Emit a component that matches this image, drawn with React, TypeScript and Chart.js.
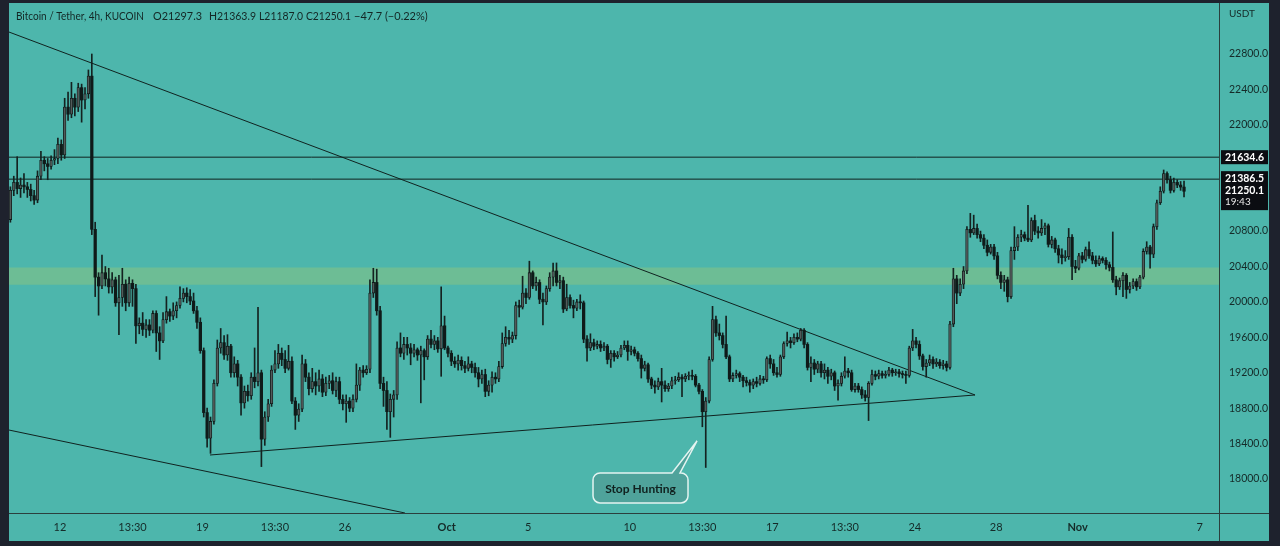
import React, { useEffect, useRef } from 'react';
import { Chart, registerables } from 'chart.js';

Chart.register(...registerables);

// Time is in days since 1 Sep 2022 00:00 (chart local time); one candle = 4h.
const FIRST_CANDLE_DAY = 8.5625; // 9 Sep 13:30
const CANDLE_STEP_DAYS = 1 / 6;
const FIRST_OPEN = 20930;

const CLOSES = [
  21260, 21350, 21280, 21320, 21300, 21270, 21200, 21150, 21420, 21600,
  21560, 21530, 21600, 21620, 21780, 21660, 22200, 22120, 22300, 22200,
  22420, 22280, 22350, 22550, 20820, 20280, 20180, 20330, 20260, 20170,
  20250, 19990, 20050, 20200, 19990, 20210, 20150, 19730, 19760, 19690,
  19740, 19680, 19870, 19650, 19560, 19800, 19890, 19840, 19900, 19960,
  20040, 20100, 20060, 20010, 19900, 19770, 19450, 18750, 18460, 18650,
  19080, 19480, 19540, 19400, 19500, 19200, 19300, 19150, 18860, 18990,
  18940, 19150, 19100, 19200, 18450, 18700, 18850, 19230, 19300, 19420,
  19350, 19250, 19330, 18880, 18720, 18790, 19300, 19150, 19020, 19100,
  19050, 19130, 18980, 19080, 19110, 19000, 19100, 18900, 18850, 18880,
  18800, 18900, 19060, 19230, 19200, 19240, 20100, 20220, 19900, 19080,
  19000, 18760, 18900, 18950, 19480, 19420, 19520, 19480, 19420, 19460,
  19400, 19450, 19380, 19580, 19520, 19560, 19470, 19730, 19480, 19420,
  19330, 19300, 19340, 19280, 19250, 19300, 19260, 19200, 19130, 19180,
  18990, 19060, 19150, 19130, 19270, 19530, 19600, 19580, 19620, 19960,
  19940, 20100, 20050, 20330, 20180, 20220, 20030, 20000, 20150, 20280,
  20350, 20220, 20240, 19920, 20050, 19960, 19930, 20000, 19990, 19580,
  19480, 19540, 19500, 19520, 19480, 19500, 19350, 19420, 19380, 19400,
  19480, 19510, 19440, 19460, 19420, 19360, 19250, 19290, 19130, 19060,
  19040, 19100, 19060, 19020, 19050, 19110, 19120, 19150, 19130, 19160,
  19170, 19160, 19060, 18990, 18760, 18880, 19350, 19800, 19650, 19620,
  19520, 19380, 19130, 19170, 19190, 19150, 19110, 19090, 19060, 19100,
  19080, 19130, 19120, 19360, 19300, 19200, 19180, 19380, 19530, 19560,
  19540, 19600, 19580, 19680, 19520, 19260, 19310, 19240, 19300, 19200,
  19230, 19160, 19200, 19050, 19080, 19160, 19220, 19200, 19010, 19050,
  19010, 18950, 18920, 19080, 19180, 19160, 19190, 19170, 19180, 19230,
  19200, 19210, 19190, 19180, 19170, 19480, 19560, 19520, 19390, 19270,
  19310, 19350, 19300, 19320, 19280, 19300, 19260, 19750, 20260, 20100,
  20200, 20350, 20820, 20780, 20830, 20760, 20720, 20640, 20560, 20620,
  20520, 20300, 20220, 20250, 20060, 20580, 20620, 20730, 20760, 20720,
  20700, 20920, 20800, 20780, 20830, 20860, 20650, 20700, 20600, 20530,
  20500, 20510, 20730, 20400, 20380, 20520, 20480, 20590, 20520, 20470,
  20430, 20490, 20470, 20420, 20390, 20250, 20170, 20240, 20300, 20140,
  20180, 20230, 20170, 20280, 20570, 20620, 20540, 20850, 21120, 21250,
  21450, 21380, 21260, 21350, 21320, 21297.3, 21250.1,
];

const HIGHS = [
  21300, 21420, 21640, 21400, 21450, 21350, 21330, 21260, 21480, 21700,
  21640, 21620, 21650, 21720, 21850, 21830, 22300, 22370, 22480, 22350,
  22470, 22460, 22420, 22620, 22800, 20900, 20330, 20530, 20400, 20380,
  20330, 20280, 20300, 20380, 20250, 20280, 20250, 20200, 19820, 19880,
  19800, 19800, 19900, 19900, 19720, 19880, 20060, 19920, 19990, 20000,
  20170, 20150, 20160, 20140, 20100, 19950, 19820, 19480, 18800, 18700,
  19120, 19570, 19700, 19620, 19630, 19520, 19380, 19340, 19180, 19050,
  19060, 19200, 19480, 19940, 19230, 18760, 18900, 19280, 19450, 19520,
  19480, 19450, 19510, 19380, 18920, 18850, 19400, 19350, 19200, 19250,
  19200, 19230, 19180, 19150, 19170, 19200, 19150, 19150, 18950, 18950,
  18920, 18950, 19300, 19260, 19280, 19280, 20250, 20380, 20370, 19950,
  19150, 19100, 18960, 19000, 19550, 19650, 19600, 19600, 19530, 19520,
  19480, 19500, 19470, 19620, 19680, 19620, 19600, 20170, 19840, 19500,
  19450, 19380, 19400, 19380, 19330, 19380, 19330, 19310, 19260, 19230,
  19240, 19110, 19210, 19200, 19330, 19650, 19720, 19680, 19660, 20000,
  20020, 20290, 20150, 20460, 20350, 20280, 20250, 20100, 20180, 20330,
  20440, 20440, 20300, 20280, 20200, 20080, 20020, 20030, 20080, 20010,
  19620, 19640, 19580, 19560, 19560, 19540, 19520, 19450, 19450, 19440,
  19510, 19560, 19560, 19500, 19490, 19440, 19400, 19330, 19310, 19150,
  19110, 19140, 19250, 19110, 19080, 19150, 19160, 19200, 19180, 19190,
  19210, 19230, 19180, 19080, 19010, 18920, 19380, 19950, 19840, 19750,
  19650, 19840, 19400, 19200, 19230, 19210, 19170, 19150, 19120, 19130,
  19150, 19170, 19160, 19380, 19400, 19350, 19260, 19400, 19550, 19660,
  19600, 19640, 19650, 19700, 19700, 19540, 19380, 19350, 19330, 19330,
  19300, 19260, 19240, 19220, 19120, 19200, 19380, 19250, 19230, 19080,
  19080, 19040, 19000, 19100, 19230, 19220, 19230, 19220, 19220, 19260,
  19250, 19240, 19240, 19220, 19220, 19500, 19690, 19600, 19560, 19410,
  19350, 19400, 19380, 19360, 19350, 19340, 19330, 19780, 20380, 20300,
  20260, 20400, 20850, 21000, 20980, 20880, 20800, 20760, 20700, 20650,
  20650, 20560, 20340, 20300, 20280, 20620, 20850, 20760, 20810, 20790,
  21090, 20950, 20980, 20850, 20930, 20890, 20880, 20740, 20720, 20640,
  20600, 20580, 20830, 20760, 20470, 20550, 20560, 20620, 20680, 20560,
  20520, 20520, 20510, 20500, 20450, 20790, 20290, 20270, 20330, 20320,
  20220, 20260, 20260, 20300, 20600, 20680, 20640, 20880, 21150, 21300,
  21490, 21470, 21420, 21400, 21380, 21360, 21363.9,
];

const LOWS = [
  20900, 21200, 21220, 21180, 21230, 21180, 21140, 21100, 21120, 21380,
  21480, 21380, 21500, 21550, 21560, 21600, 21620, 22050, 22080, 22100,
  22150, 22030, 22180, 22300, 20760, 20060, 19850, 20150, 20180, 20100,
  20100, 19950, 19630, 19950, 19900, 19950, 19950, 19530, 19640, 19620,
  19600, 19620, 19650, 19440, 19350, 19540, 19760, 19780, 19800, 19820,
  19930, 20000, 19990, 19970, 19870, 19700, 19420, 18700, 18360, 18290,
  18620, 19050, 19420, 19350, 19340, 19150, 19150, 19050, 18720, 18800,
  18880, 18900, 19030, 19050, 18140, 18380, 18650, 18820, 19200, 19250,
  19280, 19200, 19230, 18850, 18560, 18650, 18760, 19100, 18950, 18980,
  18950, 18990, 18930, 18940, 19020, 18960, 18930, 18850, 18780, 18640,
  18760, 18760, 18870, 19000, 19150, 19180, 19200, 20050, 19850, 19020,
  18820, 18560, 18470, 18700, 18900, 19380, 19350, 19400, 19290, 19380,
  19340, 18860, 19120, 19350, 19480, 19460, 19430, 19160, 19460, 19380,
  19280, 19260, 19230, 19230, 19200, 19220, 19200, 19150, 19040, 19080,
  18930, 18940, 18980, 19080, 19100, 19250, 19500, 19520, 19540, 19580,
  19830, 19920, 19980, 20030, 20150, 20130, 19980, 19740, 19970, 20120,
  20180, 20180, 20150, 19880, 19900, 19930, 19820, 19900, 19920, 19540,
  19330, 19450, 19460, 19470, 19440, 19450, 19300, 19260, 19330, 19360,
  19380, 19460, 19340, 19400, 19390, 19330, 19140, 19220, 19090, 19020,
  18970, 19010, 18870, 18990, 18990, 19020, 19070, 19100, 18930, 19100,
  19120, 19120, 19040, 18960, 18590, 18130, 18860, 19330, 19610, 19570,
  19480, 19360, 19100, 19100, 19140, 19100, 19040, 19050, 18980, 19020,
  19040, 19060, 19080, 19100, 19250, 19170, 19150, 19160, 19360, 19500,
  19480, 19520, 19550, 19560, 19480, 19230, 19100, 19180, 19200, 19150,
  19130, 19080, 19120, 19000, 18890, 19050, 19140, 19150, 18990, 18980,
  18980, 18910, 18880, 18660, 19060, 19120, 19130, 19140, 19140, 19160,
  19160, 19170, 19150, 19140, 19080, 19150, 19450, 19480, 19350, 19230,
  19150, 19280, 19250, 19270, 19250, 19240, 19220, 19240, 19720, 19980,
  20070, 20150, 20320, 20730, 20760, 20720, 20680, 20600, 20520, 20540,
  20480, 20260, 20150, 20120, 20000, 20040, 20480, 20580, 20680, 20690,
  20680, 20680, 20760, 20720, 20750, 20760, 20620, 20610, 20560, 20440,
  20430, 20460, 20480, 20250, 20330, 20360, 20440, 20460, 20490, 20430,
  20400, 20410, 20440, 20370, 20350, 20220, 20080, 20140, 20060, 20040,
  20100, 20150, 20130, 20150, 20260, 20540, 20380, 20500, 20820, 21100,
  21230, 21340, 21230, 21240, 21290, 21260, 21187.0,
];

// Axis ticks
const X_TICK_DAYS = [11, 14.5625, 18, 21.5625, 25, 30, 34, 39, 42.5625, 46, 49.5625, 53, 57, 61, 67];
const X_TICK_LABELS = ['12', '13:30', '19', '13:30', '26', 'Oct', '5', '10', '13:30', '17', '13:30', '24', '28', 'Nov', '7'];
const MONTH_LABELS = ['Oct', 'Nov'];
const Y_TICKS = [18000, 18400, 18800, 19200, 19600, 20000, 20400, 20800, 21200, 21600, 22000, 22400, 22800];
const X_MIN = 8.494;
const X_MAX = 67.948;
const Y_MIN = 17616;
const Y_MAX = 23376;

// Drawings
const H_LEVELS = [21634.6, 21386.5];
const ZONE_LOW = 20195;
const ZONE_HIGH = 20390;
const UPPER_TREND = [[8.494, 23048], [55.96, 18949]];
const SUPPORT_TREND = [[18.37, 18271], [55.96, 18949]];
const LOWER_CHANNEL = [[8.494, 18553], [27.95, 17616]];
const CALLOUT_TEXT = 'Stop Hunting';
const CALLOUT_DAY = 42.3;
const CALLOUT_PRICE = 18430;

const TITLE_PARTS = [
  'Bitcoin / Tether, 4h, KUCOIN',
  'O21297.3',
  'H21363.9',
  'L21187.0',
  'C21250.1',
  '\u221247.7 (\u22120.22%)',
];
const LAST_PRICE = 21250.1;
const COUNTDOWN = '19:43';

const DARK = '#1e222d';
const TEAL = '#4db6ac';
const INK = '#0f1a19';
const AXIS_TEXT = '#152a28';
const FONT = 'Lato, "Liberation Sans", sans-serif';

export default function App() {
  const ref = useRef<HTMLCanvasElement>(null);

  useEffect(() => {
    const canvas = ref.current;
    if (!canvas) return;

    const days = CLOSES.map((_, i) => FIRST_CANDLE_DAY + i * CANDLE_STEP_DAYS);
    const opens = CLOSES.map((_, i) => (i === 0 ? FIRST_OPEN : CLOSES[i - 1]));
    const up = CLOSES.map((c, i) => c >= opens[i]);
    const bodies = days.map((d, i) => ({ x: d, y: [opens[i], CLOSES[i]] }));
    const wicks = days.map((d, i) => ({
      x: d,
      y: [Math.min(LOWS[i], opens[i], CLOSES[i]), Math.max(HIGHS[i], opens[i], CLOSES[i])],
    }));

    const seg = (pts: number[][]) => pts.map(([x, y]) => ({ x, y }));
    const lineDs = (data: any[], extra: any = {}) => ({
      type: 'line',
      data,
      borderColor: '#10221f',
      borderWidth: 1,
      pointRadius: 0,
      tension: 0,
      fill: false,
      order: 5,
      ...extra,
    });

    const chrome = {
      id: 'chrome',
      beforeDraw(chart: any) {
        const { ctx, chartArea: a } = chart;
        ctx.save();
        ctx.fillStyle = DARK;
        ctx.fillRect(0, 0, chart.width, chart.height);
        ctx.fillStyle = TEAL;
        ctx.fillRect(a.left, a.top, a.right + 50 - a.left, a.bottom + 28 - a.top);
        ctx.restore();
      },
      afterDraw(chart: any) {
        const { ctx, chartArea: a } = chart;
        const xs = chart.scales.x;
        const ys = chart.scales.y;
        ctx.save();
        // pane separators
        ctx.strokeStyle = '#2b3f3d';
        ctx.lineWidth = 1;
        ctx.beginPath();
        ctx.moveTo(a.right + 0.5, a.top);
        ctx.lineTo(a.right + 0.5, a.bottom + 28);
        ctx.moveTo(a.left, a.bottom + 0.5);
        ctx.lineTo(a.right + 50, a.bottom + 0.5);
        ctx.stroke();

        // title
        ctx.fillStyle = '#132624';
        ctx.font = `11px ${FONT}`;
        ctx.textBaseline = 'middle';
        ctx.textAlign = 'left';
        const titleX = [16, 153, 209, 259, 306, 354];
        const titleW = [128, 49, 47, 44, 45, 74];
        TITLE_PARTS.forEach((t, i) => ctx.fillText(t, titleX[i], 16, titleW[i]));

        // currency
        ctx.fillStyle = AXIS_TEXT;
        ctx.font = `10px ${FONT}`;
        ctx.fillText('USDT', a.right + 10, 14);

        // price labels
        const boxX = a.right + 2;
        const boxW = 47;
        ctx.font = `bold 10.5px ${FONT}`;
        const y1 = ys.getPixelForValue(H_LEVELS[0]);
        ctx.fillStyle = '#0b0d12';
        ctx.fillRect(boxX, y1 - 7, boxW, 14);
        ctx.fillStyle = '#ffffff';
        ctx.fillText(H_LEVELS[0].toFixed(1), boxX + 4, y1);

        const y2 = ys.getPixelForValue(H_LEVELS[1]);
        ctx.fillStyle = '#0b0d12';
        ctx.fillRect(boxX, y2 - 8, boxW, 39);
        ctx.fillStyle = '#ffffff';
        ctx.fillText(H_LEVELS[1].toFixed(1), boxX + 4, y2 - 1);
        ctx.fillText(LAST_PRICE.toFixed(1), boxX + 4, y2 + 11);
        ctx.font = `10px ${FONT}`;
        ctx.fillStyle = '#e8e8e8';
        ctx.fillText(COUNTDOWN, boxX + 4, y2 + 23);

        // callout
        const ax = xs.getPixelForValue(CALLOUT_DAY);
        const ay = ys.getPixelForValue(CALLOUT_PRICE);
        const bl = ax - 104;
        const br = ax - 9;
        const bt = ay + 32;
        const bb = ay + 62;
        const r = 7;
        ctx.beginPath();
        ctx.moveTo(bl + r, bt);
        ctx.lineTo(ax - 25, bt);
        ctx.lineTo(ax, ay);
        ctx.lineTo(ax - 17, bt);
        ctx.lineTo(br - r, bt);
        ctx.arcTo(br, bt, br, bt + r, r);
        ctx.lineTo(br, bb - r);
        ctx.arcTo(br, bb, br - r, bb, r);
        ctx.lineTo(bl + r, bb);
        ctx.arcTo(bl, bb, bl, bb - r, r);
        ctx.lineTo(bl, bt + r);
        ctx.arcTo(bl, bt, bl + r, bt, r);
        ctx.closePath();
        ctx.fillStyle = '#4fa39b';
        ctx.fill();
        ctx.strokeStyle = '#e4f4f1';
        ctx.lineWidth = 1.5;
        ctx.stroke();
        ctx.fillStyle = '#10201e';
        ctx.font = `bold 12px ${FONT}`;
        ctx.textAlign = 'center';
        ctx.fillText(CALLOUT_TEXT, (bl + br) / 2, (bt + bb) / 2 + 1);
        ctx.restore();
      },
    };

    const chart = new Chart(canvas, {
      type: 'bar',
      data: {
        datasets: [
          lineDs(seg([[X_MIN, ZONE_HIGH], [X_MAX, ZONE_HIGH]]), {
            borderWidth: 0,
            fill: '+1',
            backgroundColor: '#6dbd95',
            order: 10,
          }),
          lineDs(seg([[X_MIN, ZONE_LOW], [X_MAX, ZONE_LOW]]), { borderWidth: 0, order: 10 }),
          ...H_LEVELS.map((v) => lineDs(seg([[X_MIN, v], [X_MAX, v]]))),
          lineDs(seg(UPPER_TREND)),
          lineDs(seg(SUPPORT_TREND)),
          lineDs(seg(LOWER_CHANNEL)),
          {
            type: 'bar',
            data: wicks,
            backgroundColor: '#142220',
            borderWidth: 0,
            barThickness: 1,
            grouped: false,
            minBarLength: 1,
            order: 2,
          },
          {
            type: 'bar',
            data: bodies,
            backgroundColor: up.map((u) => (u ? 'rgba(255,255,255,0.28)' : INK)),
            borderColor: INK,
            borderWidth: up.map((u) => (u ? 0.8 : 0)),
            borderSkipped: false,
            barThickness: 2.6,
            grouped: false,
            minBarLength: 1,
            order: 1,
          },
        ] as any,
      },
      options: {
        responsive: false,
        animation: false,
        devicePixelRatio: 1,
        events: [],
        layout: { autoPadding: false, padding: { left: 9, top: 3, right: 11, bottom: 5 } },
        plugins: {
          legend: { display: false },
          tooltip: { enabled: false },
        },
        scales: {
          x: {
            type: 'linear',
            min: X_MIN,
            max: X_MAX,
            offset: false,
            grid: { display: false, drawTicks: false },
            border: { display: false },
            afterBuildTicks: (s: any) => {
              s.ticks = X_TICK_DAYS.map((v) => ({ value: v }));
            },
            afterFit: (s: any) => {
              s.height = 28;
              s.paddingLeft = 0;
              s.paddingRight = 0;
              s.paddingTop = 0;
              s.paddingBottom = 0;
            },
            ticks: {
              autoSkip: false,
              maxRotation: 0,
              minRotation: 0,
              padding: 8,
              color: AXIS_TEXT,
              font: (c: any) => ({
                family: FONT,
                size: 11,
                weight: MONTH_LABELS.includes(X_TICK_LABELS[c.index]) ? 'bold' : 'normal',
              }),
              callback: (_v: any, i: number) => X_TICK_LABELS[i],
            },
          },
          y: {
            type: 'linear',
            position: 'right',
            min: Y_MIN,
            max: Y_MAX,
            grid: { display: false, drawTicks: false },
            border: { display: false },
            afterBuildTicks: (s: any) => {
              s.ticks = Y_TICKS.map((v) => ({ value: v }));
            },
            afterFit: (s: any) => {
              s.width = 50;
              s.paddingLeft = 0;
              s.paddingRight = 0;
              s.paddingTop = 0;
              s.paddingBottom = 0;
            },
            ticks: {
              padding: 10,
              color: AXIS_TEXT,
              font: { family: FONT, size: 10.5 },
              callback: (v: any) => Number(v).toFixed(1),
            },
          },
        },
      } as any,
      plugins: [chrome],
    });

    return () => chart.destroy();
  }, []);

  return (
    <div style={{ position: 'fixed', left: 0, top: 0, width: 1280, height: 546, background: DARK }}>
      <canvas ref={ref} width={1280} height={546} style={{ display: 'block', width: 1280, height: 546 }} />
    </div>
  );
}
